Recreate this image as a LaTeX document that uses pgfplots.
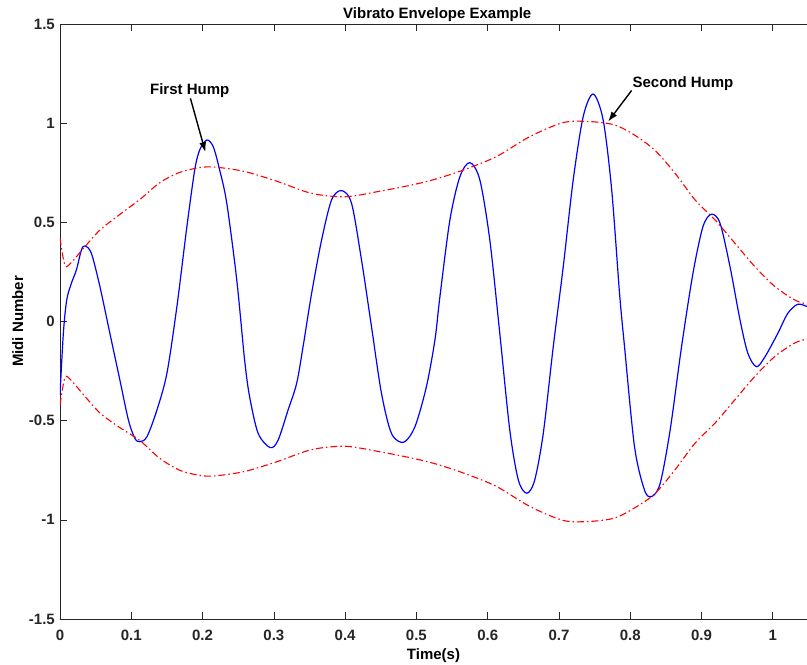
\documentclass[border=0pt]{standalone}
\usepackage{fontspec}
\setmainfont{Liberation Sans}
\usepackage{pgfplots}
\pgfplotsset{compat=1.18}
\usetikzlibrary{arrows.meta}
\definecolor{axgray}{RGB}{38,38,38}
\newcommand{\lf}{\fontsize{15}{18}\selectfont\bfseries}
\begin{document}
\begin{tikzpicture}
\begin{axis}[name=ax, scale only axis, width=747pt, height=595pt,
  xmin=0, xmax=1.048, ymin=-1.5, ymax=1.5,
  axis x line*=box, axis y line*=left,
  tick align=inside, major tick length=7pt,
  axis line style={axgray, line width=0.6pt},
  tick style={axgray, line width=0.6pt},
  xtick={0,0.1,0.2,0.3,0.4,0.5,0.6,0.7,0.8,0.9,1},
  xticklabels={0,0.1,0.2,0.3,0.4,0.5,0.6,0.7,0.8,0.9,1},
  ytick={-1.5,-1,-0.5,0,0.5,1,1.5},
  yticklabels={-1.5,-1,-0.5,0,0.5,1,1.5},
  ticklabel style={font=\lf, text=axgray},
  xticklabel style={anchor=base, yshift=-21pt},
  yticklabel style={anchor=east, inner sep=0pt, xshift=-5pt},
  title={Vibrato Envelope Example},
  title style={at={(axis description cs:0.505,1.0084)}, anchor=base, yshift=-6pt, font=\lf},
  xlabel={Time(s)},
  xlabel style={at={(axis description cs:0.5,-0.0689)}, anchor=base, font=\lf},
  ylabel={Midi Number},
  ylabel style={at={(axis description cs:-0.0495,0.5)}, anchor=base, font=\lf},
  clip=true,
]
\addplot[blue, line width=1.2pt, smooth] coordinates {
(0.000,-0.37) (0.0047,-0.06) (0.0094,0.108) (0.016,0.193) (0.023,0.26)
(0.030,0.36) (0.035,0.381) (0.044,0.344) (0.056,0.176) (0.070,-0.06)
(0.084,-0.295) (0.096,-0.497) (0.105,-0.589) (0.112,-0.606) (0.122,-0.581)
(0.136,-0.446) (0.150,-0.261) (0.164,0.075) (0.178,0.478) (0.189,0.764)
(0.196,0.865) (0.206,0.915) (0.215,0.881) (0.224,0.764) (0.234,0.596)
(0.248,0.209) (0.259,-0.194) (0.266,-0.379) (0.278,-0.564) (0.295,-0.636)
(0.306,-0.598) (0.320,-0.446) (0.332,-0.312) (0.341,-0.127) (0.353,0.142)
(0.367,0.411) (0.381,0.613) (0.395,0.660) (0.409,0.596) (0.423,0.310)
(0.437,-0.026) (0.451,-0.362) (0.465,-0.564) (0.482,-0.609) (0.498,-0.530)
(0.514,-0.329) (0.526,-0.093) (0.533,0.125) (0.547,0.512) (0.561,0.730)
(0.575,0.801) (0.589,0.714) (0.603,0.411) (0.617,-0.06) (0.631,-0.547)
(0.643,-0.799) (0.655,-0.866) (0.666,-0.799) (0.678,-0.564) (0.692,-0.127)
(0.706,0.276) (0.720,0.714) (0.734,1.033) (0.748,1.147) (0.762,1.016)
(0.774,0.663) (0.785,0.142) (0.792,-0.127) (0.806,-0.631) (0.820,-0.850)
(0.830,-0.883) (0.842,-0.816) (0.856,-0.547) (0.872,-0.127) (0.888,0.243)
(0.902,0.478) (0.914,0.541) (0.926,0.495) (0.940,0.276) (0.954,0.008)
(0.965,-0.160) (0.977,-0.228) (0.989,-0.178) (1.007,-0.06) (1.021,0.041)
(1.035,0.087) (1.048,0.075)
};
\addplot[red, line width=1.1pt, smooth, dash pattern=on 7pt off 3pt on 1.5pt off 3pt] coordinates {
(0.000,0.42) (0.005,0.31) (0.009,0.276) (0.019,0.31) (0.033,0.369)
(0.056,0.461) (0.084,0.540) (0.112,0.615) (0.140,0.700) (0.168,0.752)
(0.196,0.776) (0.215,0.779) (0.243,0.767) (0.266,0.750) (0.306,0.705)
(0.353,0.646) (0.400,0.629) (0.446,0.655) (0.493,0.688) (0.526,0.717)
(0.566,0.764) (0.612,0.831) (0.659,0.932) (0.706,1.003) (0.743,1.008)
(0.778,0.991) (0.806,0.940) (0.834,0.865) (0.863,0.747) (0.891,0.613)
(0.919,0.512) (0.947,0.394) (0.975,0.276) (1.003,0.176) (1.031,0.108)
(1.048,0.088)
};
\addplot[red, line width=1.1pt, smooth, dash pattern=on 7pt off 3pt on 1.5pt off 3pt] coordinates {
(0.000,-0.42) (0.005,-0.31) (0.009,-0.276) (0.019,-0.31) (0.033,-0.369)
(0.056,-0.461) (0.084,-0.535) (0.112,-0.600) (0.140,-0.690) (0.168,-0.750)
(0.196,-0.776) (0.215,-0.779) (0.243,-0.767) (0.266,-0.750) (0.306,-0.705)
(0.353,-0.646) (0.400,-0.629) (0.446,-0.655) (0.493,-0.688) (0.526,-0.717)
(0.566,-0.764) (0.612,-0.831) (0.659,-0.932) (0.706,-1.003) (0.743,-1.008)
(0.778,-0.991) (0.806,-0.940) (0.834,-0.870) (0.863,-0.747) (0.891,-0.613)
(0.919,-0.512) (0.947,-0.394) (0.975,-0.276) (1.003,-0.176) (1.031,-0.108)
(1.048,-0.088)
};
\node[font=\lf, anchor=base] at (axis cs:0.182,1.146) {First Hump};
\draw[-{Latex[length=10pt,width=7pt]}, line width=1.4pt] (axis cs:0.183,1.125) -- (axis cs:0.204,0.854);
\node[font=\lf, anchor=base] at (axis cs:0.874,1.181) {Second Hump};
\draw[-{Latex[length=10pt,width=7pt]}, line width=1.4pt] (axis cs:0.802,1.165) -- (axis cs:0.769,1.008);
\end{axis}
\pgfresetboundingbox
\path[use as bounding box] ([xshift=-60pt,yshift=-45pt]ax.south west) rectangle ([yshift=24pt]ax.north east);
\end{tikzpicture}
\end{document}
